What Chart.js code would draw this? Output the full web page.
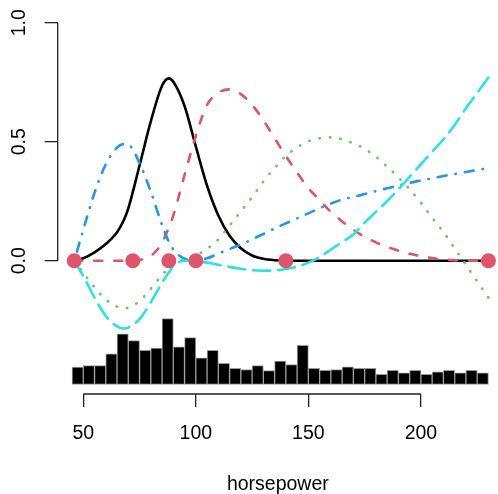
<!DOCTYPE html>
<html>
<head>
<meta charset="utf-8">
<script src="https://cdn.jsdelivr.net/npm/chart.js@4/dist/chart.umd.min.js"></script>
<style>
  html, body { margin: 0; padding: 0; background: #fff; }
  #wrap { width: 498px; height: 494px; }
</style>
</head>
<body>
<div id="wrap"><canvas id="basis-chart"></canvas></div>
<script>
const hp = [46, 50, 55, 60, 65, 68, 70, 75, 80, 85, 88, 90, 95, 100, 105, 110, 115, 120, 125, 130,
    135, 140, 145, 150, 155, 160, 165, 170, 175, 180, 185, 190, 195, 200, 205, 210, 215, 220, 225, 230];

// one array per basis function (same order as hp)
const basis1 = [0, 0.01, 0.035, 0.07, 0.12, 0.17, 0.22, 0.40, 0.585, 0.735, 0.766, 0.752, 0.65, 0.48, 0.315, 0.19,
    0.105, 0.052, 0.022, 0.008, 0.002, 0, 0, 0, 0, 0, 0, 0, 0, 0, 0, 0, 0, 0, 0, 0, 0, 0, 0, 0];
const basis2 = [0, 0, 0, 0, 0, 0, 0, 0.003, 0.02, 0.075, 0.14, 0.19, 0.36, 0.525, 0.655, 0.705, 0.72, 0.70, 0.655, 0.59,
    0.515, 0.44, 0.37, 0.305, 0.255, 0.205, 0.165, 0.13, 0.10, 0.077, 0.058, 0.042, 0.029, 0.019, 0.011, 0.005, 0.002, 0, 0, 0];
const basis3 = [0, -0.05, -0.112, -0.163, -0.193, -0.2, -0.197, -0.17, -0.118, -0.06, -0.03, -0.014, 0.006, 0.022, 0.05, 0.09,
    0.148, 0.207, 0.267, 0.333, 0.389, 0.44, 0.476, 0.502, 0.514, 0.518, 0.51, 0.493, 0.47, 0.437, 0.395, 0.35, 0.30, 0.244,
    0.18, 0.121, 0.052, -0.017, -0.087, -0.155];
const basis4 = [0, 0.13, 0.285, 0.405, 0.475, 0.49, 0.488, 0.41, 0.29, 0.15, 0.08, 0.048, 0.008, 0.002, 0.01, 0.03,
    0.049, 0.068, 0.09, 0.112, 0.135, 0.157, 0.178, 0.199, 0.22, 0.24, 0.257, 0.268, 0.28, 0.292, 0.304, 0.316, 0.327, 0.337,
    0.346, 0.356, 0.364, 0.373, 0.381, 0.389];
const basis5 = [0, -0.065, -0.155, -0.232, -0.276, -0.285, -0.281, -0.245, -0.175, -0.092, -0.05, -0.022, 0.0, -0.002, -0.008, -0.017,
    -0.026, -0.034, -0.04, -0.042, -0.041, -0.035, -0.025, -0.008, 0.015, 0.047, 0.078, 0.11, 0.16, 0.205, 0.25, 0.30, 0.352, 0.405,
    0.458, 0.51, 0.57, 0.64, 0.705, 0.77];

// knots (red dots on the zero line)
const knots = [46, 72, 88, 100, 140, 230];

// histogram of horsepower, bins of 5 starting at 45, bar heights in y units
const binStart = 45;
const binWidth = 5;
const histBase = -0.52;
const histHeights = [0.073, 0.079, 0.079, 0.129, 0.213, 0.184, 0.143, 0.153, 0.277, 0.158, 0.197, 0.112, 0.143, 0.089,
    0.068, 0.063, 0.079, 0.058, 0.098, 0.084, 0.164, 0.068, 0.059, 0.063, 0.074, 0.068, 0.068, 0.043, 0.059, 0.049,
    0.059, 0.043, 0.053, 0.059, 0.049, 0.059, 0.049];

const xTicks = [50, 100, 150, 200];
const yTicks = [0, 0.5, 1];

const FONT = "'Liberation Sans', Arial, sans-serif";

const toPoints = vals => hp.map((h, i) => ({ x: h, y: vals[i] }));

const curve = (vals, color, dash) => ({
    type: 'line',
    data: toPoints(vals),
    borderColor: color,
    borderWidth: 2.6,
    borderDash: dash,
    borderCapStyle: 'round',
    borderJoinStyle: 'round',
    pointRadius: 0,
    cubicInterpolationMode: 'monotone',
    fill: false
});

// R style axis lines: only from first to last tick
const axisLines = {
    id: 'axisLines',
    afterDraw(chart) {
        const { ctx, chartArea } = chart;
        const x = chart.scales.x, y = chart.scales.y;
        ctx.save();
        ctx.strokeStyle = '#222';
        ctx.lineWidth = 1.3;
        ctx.beginPath();
        ctx.moveTo(chartArea.left, y.getPixelForValue(yTicks[0]));
        ctx.lineTo(chartArea.left, y.getPixelForValue(yTicks[yTicks.length - 1]));
        ctx.moveTo(x.getPixelForValue(xTicks[0]), chartArea.bottom);
        ctx.lineTo(x.getPixelForValue(xTicks[xTicks.length - 1]), chartArea.bottom);
        ctx.stroke();
        ctx.restore();
    }
};

new Chart(document.getElementById('basis-chart'), {
    type: 'line',
    data: {
        datasets: [
            {
                type: 'scatter',
                data: knots.map(k => ({ x: k, y: 0 })),
                backgroundColor: '#DF536B',
                borderColor: '#DF536B',
                pointRadius: 7.5,
                borderWidth: 0,
                showLine: false
            },
            curve(basis5, '#28E2E5', [17, 8]),
            curve(basis4, '#2297E6', [0.5, 9, 9, 9]),
            curve(basis3, '#61D04F', [0.5, 10]),
            curve(basis2, '#DF536B', [8, 12]),
            curve(basis1, '#000000', []),
            {
                type: 'bar',
                data: histHeights.map((h, i) => ({ x: binStart + binWidth * (i + 0.5), y: [histBase, histBase + h] })),
                backgroundColor: '#000000',
                borderColor: '#9a9a9a',
                borderWidth: 1,
                borderSkipped: false,
                barPercentage: 1,
                categoryPercentage: 1
            }
        ]
    },
    options: {
        responsive: true,
        maintainAspectRatio: false,
        animation: false,
        events: [],
        layout: { autoPadding: false, padding: { top: 8.4, right: 0, left: 0, bottom: 0 } },
        plugins: {
            legend: { display: false },
            tooltip: { enabled: false }
        },
        scales: {
            x: {
                type: 'linear',
                min: 38.64,
                max: 234.25,
                offset: false,
                afterBuildTicks: s => { s.ticks = xTicks.map(v => ({ value: v })); },
                afterFit: s => { s.height = 100; s.paddingLeft = 0; s.paddingRight = 0; },
                border: { display: false },
                grid: { offset: false, drawOnChartArea: false, drawTicks: true, tickLength: 13, color: '#222', lineWidth: 1.3 },
                ticks: { color: '#000', padding: 15, maxRotation: 0, font: { family: FONT, size: 19.5 } },
                title: { display: true, text: 'horsepower', color: '#000', padding: { top: 0, bottom: -2 },
                    font: { family: FONT, size: 19.5 } }
            },
            y: {
                type: 'linear',
                min: -0.56,
                max: 1.06,
                afterBuildTicks: s => { s.ticks = yTicks.map(v => ({ value: v })); },
                afterFit: s => { s.width = 57.7; s.paddingTop = 0; s.paddingBottom = 0; },
                border: { display: false },
                grid: { offset: false, drawOnChartArea: false, drawTicks: true, tickLength: 13, color: '#222', lineWidth: 1.3 },
                ticks: {
                    color: '#000', padding: 12, minRotation: 90, maxRotation: 90, crossAlign: 'center',
                    font: { family: FONT, size: 19.5 },
                    callback: v => v.toFixed(1)
                }
            }
        }
    },
    plugins: [axisLines]
});
</script>
</body>
</html>
